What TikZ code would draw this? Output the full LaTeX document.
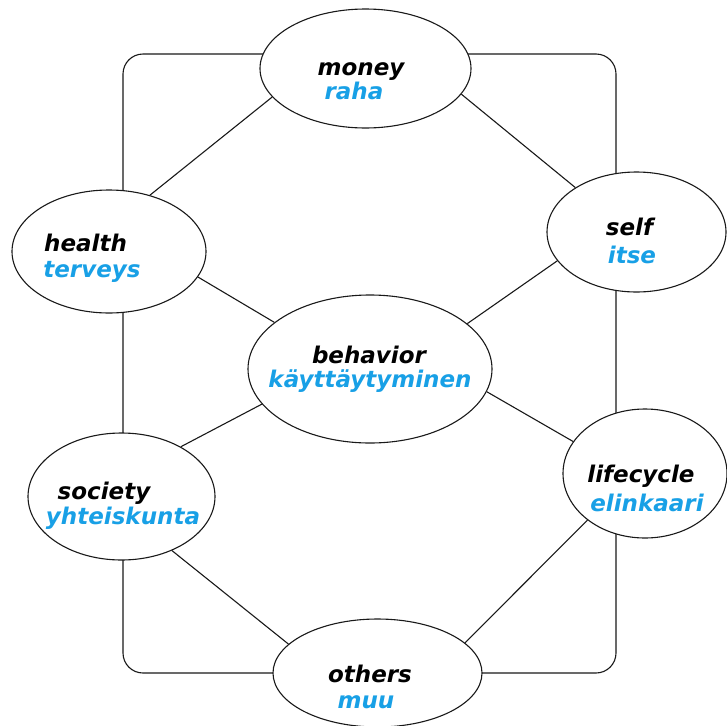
\documentclass[tikz,border=0pt]{standalone}
\usepackage{fontspec}
\setmainfont{DejaVu Sans}[ItalicFont={DejaVu Sans Oblique},BoldFont={DejaVu Sans Bold},BoldItalicFont={DejaVu Sans Bold Oblique}]
\usetikzlibrary{shapes.geometric}
\definecolor{fin}{RGB}{24,160,230}
\tikzset{
  bub/.style={ellipse, draw=black!90, line width=1.1pt, fill=white, inner sep=0pt},
  en/.style={anchor=base, inner sep=0pt, font=\fontsize{23}{25}\selectfont\bfseries\itshape, text=black},
  fi/.style={en, text=fin},
  link/.style={draw=black!90, line width=1.1pt},
}
\begin{document}
\begin{tikzpicture}[x=1pt,y=-1pt]
\useasboundingbox (0,0) rectangle (726,726);
\draw[link, rounded corners=20pt] (123,54) rectangle (616,673);
\node[bub, minimum width=211pt, minimum height=119pt] (money) at (365.5,68.5) {};
\node[bub, minimum width=179pt, minimum height=120pt] (self) at (636.5,232) {};
\node[bub, minimum width=194pt, minimum height=123pt] (health) at (109,251.5) {};
\node[bub, minimum width=244pt, minimum height=148pt] (behavior) at (370,369) {};
\node[bub, minimum width=187pt, minimum height=127pt] (society) at (121.5,496.5) {};
\node[bub, minimum width=164pt, minimum height=129pt] (lifecycle) at (645,473.5) {};
\node[bub, minimum width=209pt, minimum height=108pt] (others) at (377.5,673) {};
\draw[link] (money.197.5) -- (health.54.7);
\draw[link] (money.-15.9) -- (self.144.4);
\draw[link] (health.-16.4) -- (behavior.154.2);
\draw[link] (self.200.9) -- (behavior.25.4);
\draw[link] (behavior.198.9) -- (society.40.4);
\draw[link] (behavior.-11) -- (lifecycle.156.4);
\draw[link] (society.-47.2) -- (others.162.6);
\draw[link] (lifecycle.219.9) -- (others.19.3);
\node[en] (moneyA) at (361,75) {money};
\node[fi] (moneyB) at (354,99) {raha};
\node[en] (selfA) at (629.5,235) {self};
\node[fi] (selfB) at (632,263) {itse};
\node[en] (healthA) at (85.5,251) {health};
\node[fi] (healthB) at (92,277) {terveys};
\node[en] (behaviorA) at (369,363) {behavior};
\node[fi] (behaviorB) at (370,387) {käyttäytyminen};
\node[en] (societyA) at (104,499) {society};
\node[fi] (societyB) at (123,524) {yhteiskunta};
\node[en] (lifecycleA) at (641,482) {lifecycle};
\node[fi] (lifecycleB) at (647,511) {elinkaari};
\node[en] (othersA) at (370,682) {others};
\node[fi] (othersB) at (366,708) {muu};
\end{tikzpicture}
\end{document}
